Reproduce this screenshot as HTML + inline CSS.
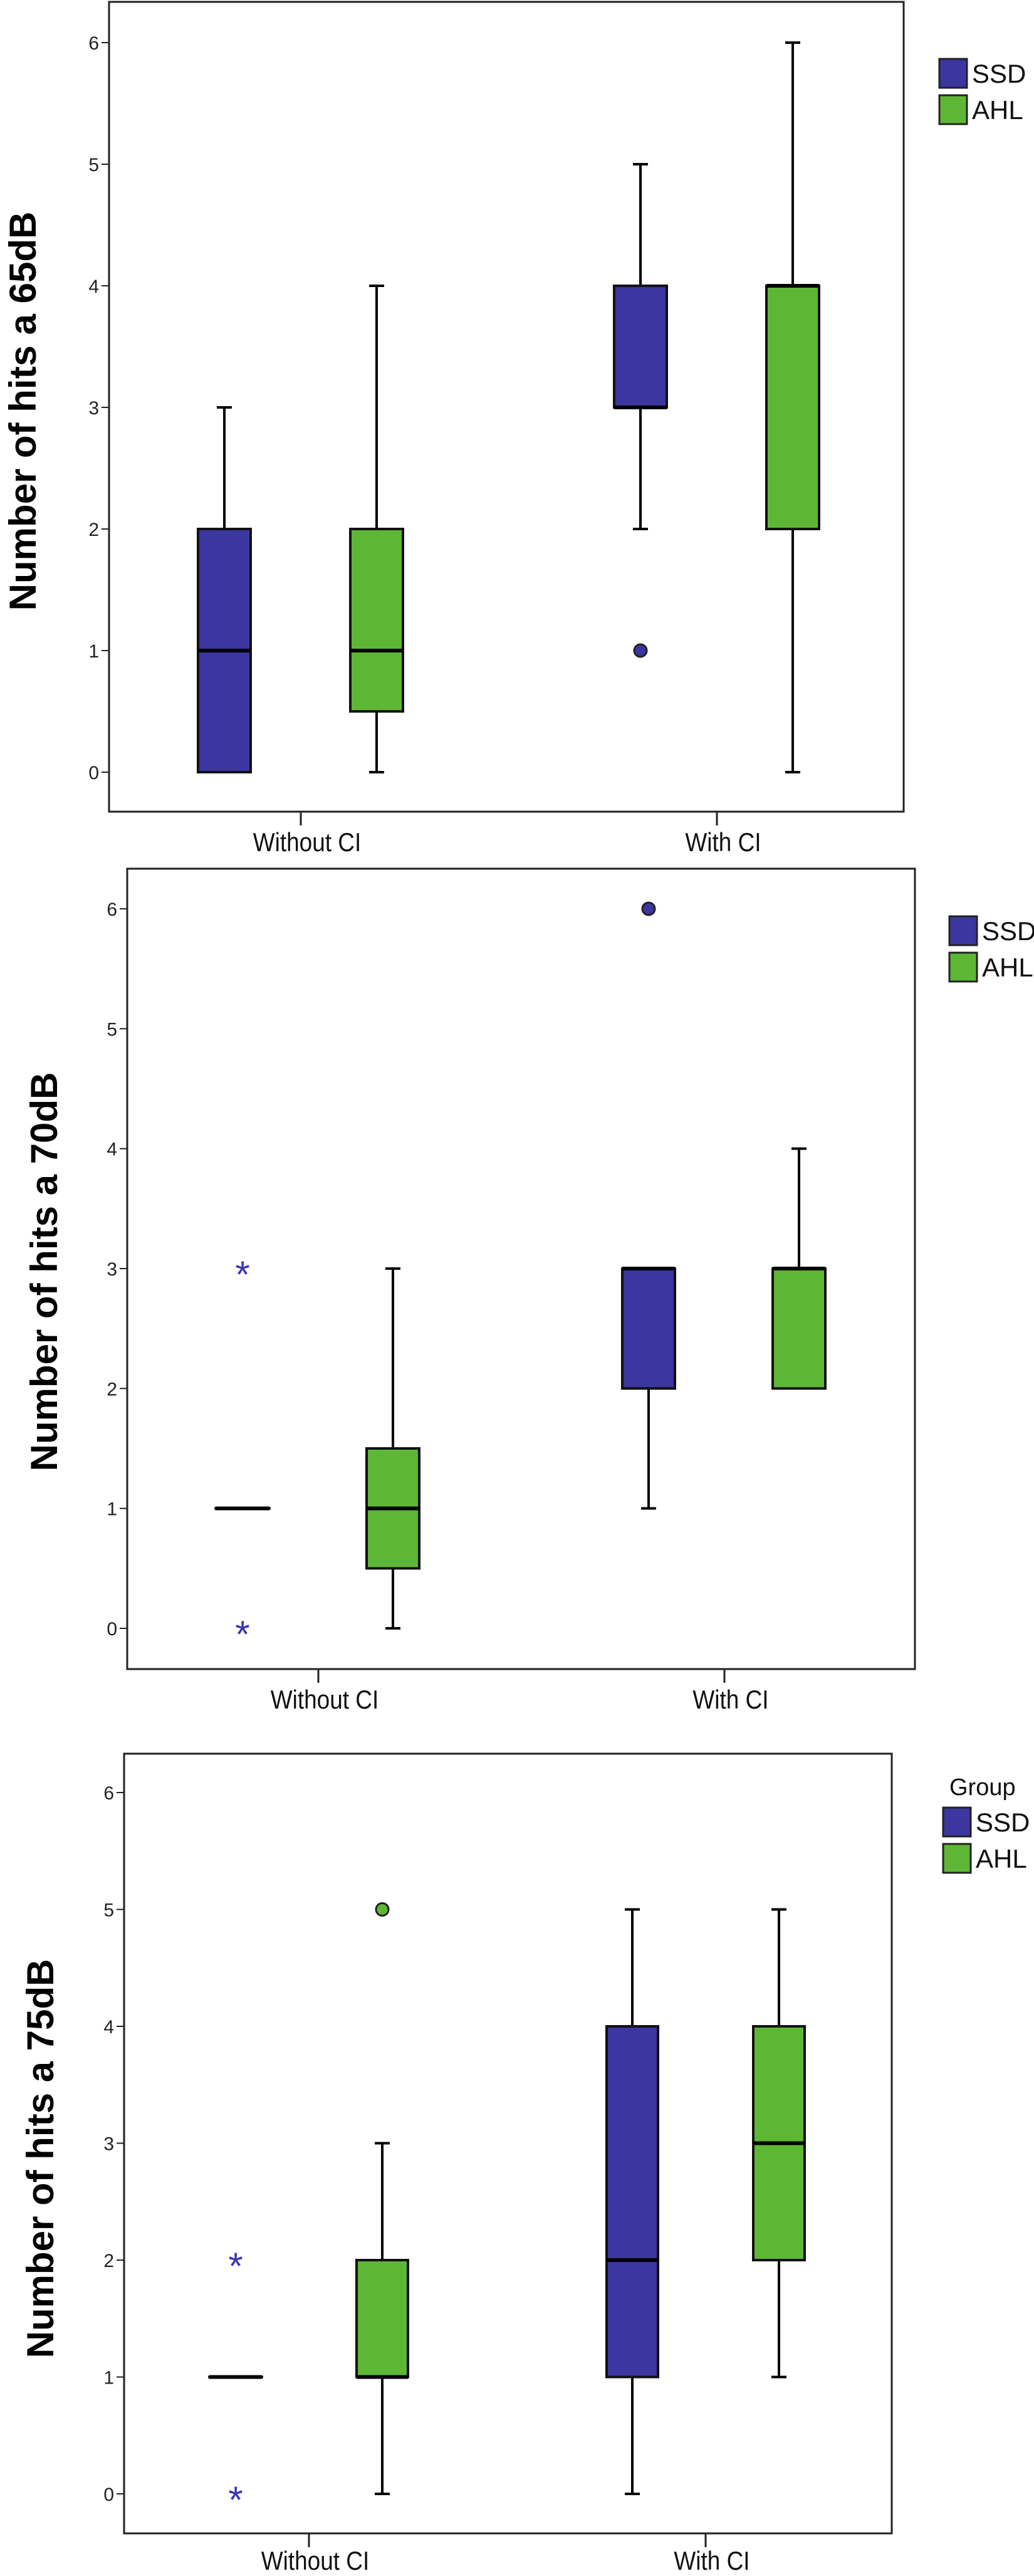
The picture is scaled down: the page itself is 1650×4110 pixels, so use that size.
<!DOCTYPE html>
<html><head><meta charset="utf-8"><style>
html,body{margin:0;padding:0;background:#fff;}
svg{display:block;}
text{font-family:"Liberation Sans",sans-serif;}
</style></head><body>
<svg id="c" width="1650" height="4110" xmlns="http://www.w3.org/2000/svg"></svg>
<script>
// ---- data ----
const categories = ["Without CI", "With CI"];
const groups = ["SSD", "AHL"];
const yTicks = [0, 1, 2, 3, 4, 5, 6];
const titles = ["Number of  hits a 65dB", "Number of  hits a 70dB", "Number of  hits a 75dB"];
// [min, q1, median, q3, max] per chart, per category, per group
const stats65 = [[[0,0,1,2,3],[0,0.5,1,2,4]],[[2,3,3,4,5],[0,2,4,4,6]]];
const stats70 = [[[1,1,1,1,1],[0,0.5,1,1.5,3]],[[1,2,3,3,3],[2,2,3,3,4]]];
const stats75 = [[[1,1,1,1,1],[0,1,1,2,3]],[[0,1,2,4,5],[1,2,3,4,5]]];
// outliers: [categoryIndex, groupIndex, value, type]
const out65 = [[1,0,1,"circle"]];
const out70 = [[0,0,3,"star"],[0,0,0,"star"],[1,0,6,"circle"]];
const out75 = [[0,0,2,"star"],[0,0,0,"star"],[0,1,5,"circle"]];

const colors = ["#3b36a0", "#5db735"];
const NS = "http://www.w3.org/2000/svg";
const svg = document.getElementById("c");
function el(tag, attrs, parent) {
  const e = document.createElementNS(NS, tag);
  for (const k in attrs) e.setAttribute(k, attrs[k]);
  (parent || svg).appendChild(e);
  return e;
}
const layouts = [
  {L:174,R:1442,T:3,B:1295,y0:1232,y6:68,cat:[480,1144],off:[-122,121],bw:84,labY:1358,leg:{x:1499,y:94,group:false},tx:36,ty:656,stats:stats65,outs:out65},
  {L:203,R:1460,T:1386,B:2663,y0:2598,y6:1450,cat:[508,1156],off:[-121,119],bw:84,labY:2726,leg:{x:1515,y:1462,group:false},tx:70,ty:2029,stats:stats70,outs:out70},
  {L:198,R:1423,T:2798,B:4042,y0:3979,y6:2860,cat:[493,1126],off:[-117,117],bw:82,labY:4100,leg:{x:1505,y:2884,group:true},tx:64,ty:3444,stats:stats75,outs:out75}
];
layouts.forEach((c, ci) => {
  const g = el("g", {});
  
  
  const yS = v => c.y0 + (c.y6 - c.y0) * v / 6;
  const fr = el("rect", {x:c.L, y:c.T, width:c.R - c.L, height:c.B - c.T, fill:"none", stroke:"#222", "stroke-width":3}, g);
  
  
  yTicks.forEach(t => {
    const y = yS(t);
    const tk = el("line", {x1:c.L - 12, x2:c.L, y1:y, y2:y, stroke:"#222", "stroke-width":2}, g);
    
    
    const tl = el("text", {x:c.L - 16, y:y + 11, "text-anchor":"end", "font-size":30, fill:"#222"}, g);
    tl.textContent = t;
    
    
  });
  categories.forEach((cat, k) => {
    const x = c.cat[k];
    const tk = el("line", {x1:x, x2:x, y1:c.B, y2:c.B + 22, stroke:"#222", "stroke-width":3}, g);
    
    
    const tl = el("text", {x:x + 10, y:c.labY, "text-anchor":"middle", "font-size":42, fill:"#111", transform:`translate(${x + 10} 0) scale(0.88 1) translate(${-(x + 10)} 0)`}, g);
    tl.textContent = cat;
    
    
    groups.forEach((gr, j) => {
      const s = c.stats[k][j];
      const cx = x + c.off[j];
      const hw = c.bw / 2;
      const bg = el("g", {}, g);
      
      
      if (s[0] < s[1]) {
        el("line", {x1:cx, x2:cx, y1:yS(s[0]), y2:yS(s[1]), stroke:"#000", "stroke-width":4}, bg);
        el("line", {x1:cx - 12, x2:cx + 12, y1:yS(s[0]), y2:yS(s[0]), stroke:"#000", "stroke-width":4}, bg);
      }
      if (s[4] > s[3]) {
        el("line", {x1:cx, x2:cx, y1:yS(s[4]), y2:yS(s[3]), stroke:"#000", "stroke-width":4}, bg);
        el("line", {x1:cx - 12, x2:cx + 12, y1:yS(s[4]), y2:yS(s[4]), stroke:"#000", "stroke-width":4}, bg);
      }
      if (s[3] > s[1]) {
        el("rect", {x:cx - hw, y:yS(s[3]), width:c.bw, height:yS(s[1]) - yS(s[3]), fill:colors[j], stroke:"#111", "stroke-width":4}, bg);
      }
      el("line", {x1:cx - hw, x2:cx + hw, y1:yS(s[2]), y2:yS(s[2]), stroke:"#000", "stroke-width":6, "stroke-linecap": s[3] > s[1] ? "butt" : "round"}, bg);
    });
  });
  c.outs.forEach(o => {
    const cx = c.cat[o[0]] + c.off[o[1]];
    const y = yS(o[2]);
    if (o[3] === "circle") {
      const ci2 = el("circle", {cx:cx, cy:y, r:10, fill:colors[o[1]], stroke:"#222", "stroke-width":3}, g);
      
      
    } else {
      const st = el("text", {x:cx, y:y + 30, "text-anchor":"middle", "font-size":60, fill:"#3b36b0"}, g);
      st.textContent = "*";
      
      
    }
  });
  const yt = el("text", {x:c.tx, y:c.ty, "text-anchor":"middle", "font-size":60, "font-weight":"bold", fill:"#000", transform:`rotate(-90 ${c.tx} ${c.ty}) translate(0 21)`}, g);
  yt.textContent = titles[ci];
  
  
  const lg = el("g", {}, g);
  
  
  if (c.leg.group) {
    const gt = el("text", {x:c.leg.x + 10, y:c.leg.y - 20, "font-size":38, fill:"#111"}, lg);
    gt.textContent = "Group";
    
    
  }
  groups.forEach((gr, j) => {
    const y = c.leg.y + j * 58;
    const sw = el("rect", {x:c.leg.x, y:y, width:44, height:46, fill:colors[j], stroke:"#222", "stroke-width":3}, lg);
    
    
    const lt = el("text", {x:c.leg.x + 52, y:y + 38, "font-size":42, fill:"#111"}, lg);
    lt.textContent = gr;
    
    
  });
});
</script>
</body></html>
